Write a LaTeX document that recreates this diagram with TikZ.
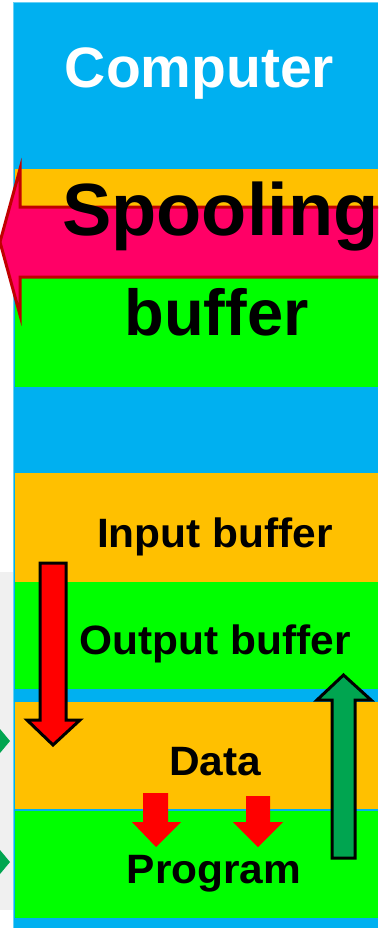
\documentclass[tikz,border=0pt]{standalone}
\usepackage{fontspec}
\setmainfont{Liberation Sans}
\definecolor{sky}{HTML}{00B0F0}
\definecolor{amber}{HTML}{FFC000}
\definecolor{lime}{HTML}{00FF00}
\definecolor{hotpink}{HTML}{FF0066}
\definecolor{darkred}{HTML}{C00000}
\definecolor{arrred}{HTML}{FF0000}
\definecolor{arrgreen}{HTML}{00A550}
\definecolor{greyband}{HTML}{F0F0F0}
\begin{document}
\begin{tikzpicture}[x=1pt,y=-1pt,
  lbl/.style={inner sep=0pt, anchor=base, font=\bfseries\fontsize{41}{46}\selectfont, xscale=1.035},
  bigarrow/.style={draw=black, line width=3pt, line join=miter},
]
\useasboundingbox (0,0) rectangle (378,928);
\clip (0,0) rectangle (378,928);
\fill[white] (0,0) rectangle (378,928);
\fill[greyband] (0,572) rectangle (13,910);
% small green arrow tips at the left
\fill[arrgreen] (0,729) -- (10,741) -- (0,753) -- cycle;
\fill[arrgreen] (0,850) -- (10,862) -- (0,874) -- cycle;
% computer column
\fill[sky!60!white] (12.5,2.5) rectangle (378,928);
\fill[sky] (14,3) rectangle (378,928);
% bands
\fill[amber] (15,169) rectangle (378,240);
\fill[lime] (15,240) rectangle (378,387);
\fill[amber] (15,473) rectangle (378,582);
\fill[lime] (15,582) rectangle (378,689);
\fill[amber] (15,702) rectangle (378,810);
\fill[sky] (15,808.5) rectangle (378,811);
\fill[lime] (15,811) rectangle (378,918);
% texts
\node[inner sep=0pt, anchor=base, text=white, font=\bfseries\fontsize{57}{62}\selectfont] (computer) at (199.5,88) {Computer};
% spooling arrow
\draw[fill=hotpink, draw=darkred, line width=3pt, line join=miter]
  (390,207) -- (20,207) -- (20,169) -- (0,242) -- (20,315) -- (20,277) -- (390,277) -- cycle;
\node[inner sep=0pt, anchor=base west, font=\bfseries\fontsize{74}{80}\selectfont] (spooling) at (62,235) {Spooling};
\node[inner sep=0pt, anchor=base, font=\bfseries\fontsize{65}{70}\selectfont] (buffer) at (216.5,335) {buffer};
\node[lbl] (inbuf) at (215,547) {Input buffer};
\node[lbl] (outbuf) at (215,654) {Output buffer};
\node[lbl] (data) at (215,775) {Data};
\node[lbl] (prog) at (214,883) {Program};
% big red down arrow
\draw[bigarrow, fill=arrred] (40,563) -- (66,563) -- (66,720) -- (80,720) -- (53,745) -- (27,720) -- (40,720) -- cycle;
% big green up arrow
\draw[bigarrow, fill=arrgreen] (332,858) -- (355,858) -- (355,700) -- (371,700) -- (343.5,675) -- (317,700) -- (332,700) -- cycle;
% small red arrows
\fill[arrred] (143,793) -- (168,793) -- (168,822) -- (181,822) -- (156,847) -- (132,822) -- (143,822) -- cycle;
\fill[arrred] (246,796) -- (270,796) -- (270,822) -- (283,822) -- (258,847) -- (233,822) -- (246,822) -- cycle;
\end{tikzpicture}
\end{document}
